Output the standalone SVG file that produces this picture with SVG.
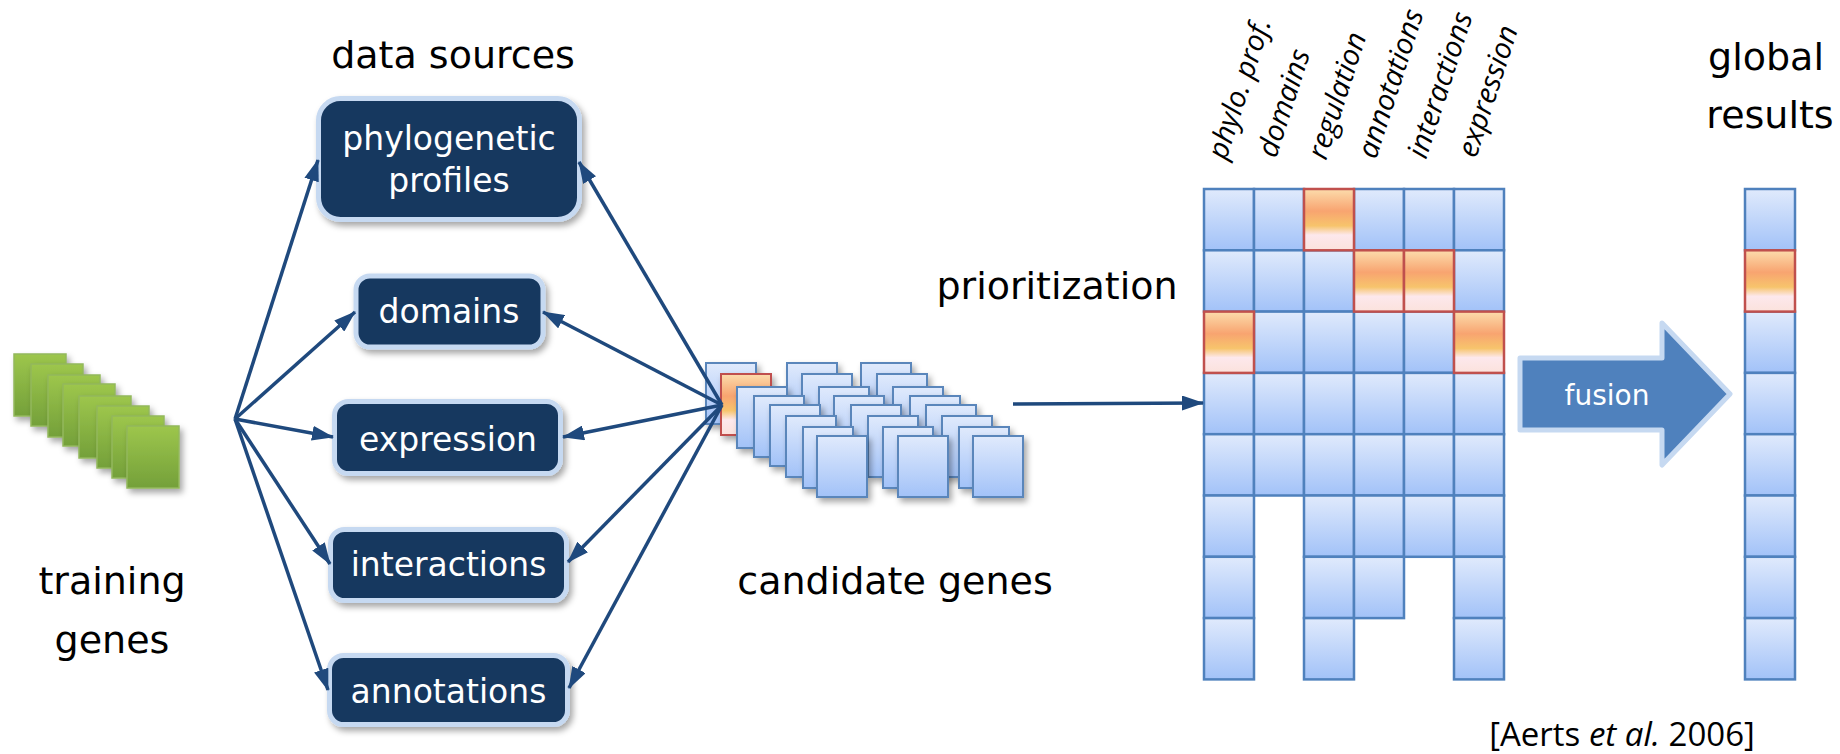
<svg xmlns="http://www.w3.org/2000/svg" width="1840" height="754" viewBox="0 0 1840 754">
  <defs>
    <linearGradient id="gBlue" x1="0" y1="0" x2="0" y2="1">
      <stop offset="0" stop-color="#e0eafc"/>
      <stop offset="1" stop-color="#a2c2f8"/>
    </linearGradient>
    <linearGradient id="gHot" x1="0" y1="0" x2="0" y2="1">
      <stop offset="0" stop-color="#fcdcac"/>
      <stop offset="0.36" stop-color="#f8a470"/>
      <stop offset="0.6" stop-color="#f7c46c"/>
      <stop offset="0.75" stop-color="#fde8ec"/>
      <stop offset="1" stop-color="#fbe2dc"/>
    </linearGradient>
    <linearGradient id="gGreen" x1="0" y1="0" x2="0" y2="1">
      <stop offset="0" stop-color="#9dc64c"/>
      <stop offset="1" stop-color="#74a03a"/>
    </linearGradient>
    <filter id="shadow" x="-20%" y="-20%" width="150%" height="150%">
      <feDropShadow dx="3" dy="4" stdDeviation="3" flood-color="#000" flood-opacity="0.35"/>
    </filter>
    <marker id="head" viewBox="0 0 22 15" refX="21" refY="7.5" markerWidth="22" markerHeight="15" markerUnits="userSpaceOnUse" orient="auto">
      <path d="M0,0 L22,7.5 L0,15 z" fill="#1f497d"/>
    </marker>
    <style>
      .lbl { font-family: "DejaVu Sans", Verdana, sans-serif; font-size: 38px; fill: #000; text-anchor: middle; }
      .box { fill: #17375e; stroke: #c6d9f1; stroke-width: 5; filter: url(#shadow); }
      .boxtxt { font-family: "DejaVu Sans", Verdana, sans-serif; font-size: 33px; fill: #fff; text-anchor: middle; }
      .green { fill: url(#gGreen); stroke: #93b85c; stroke-width: 1.5; filter: url(#shadow); }
      .card { fill: url(#gBlue); stroke: #5a86bb; stroke-width: 2; filter: url(#shadow); }
      .cardHot { fill: url(#gHot); stroke: #c0504d; stroke-width: 2; filter: url(#shadow); }
      .cell { fill: url(#gBlue); stroke: #4f81bd; stroke-width: 2.5; }
      .hot { fill: url(#gHot); stroke: #c0504d; stroke-width: 2.5; }
      .col { font-family: "Open Sans", "Noto Sans", sans-serif; font-style: italic; font-size: 29px; fill: #000; }
      .link { stroke: #1f497d; stroke-width: 3.5; fill: none; marker-end: url(#head); }
    </style>
  </defs>

  <rect width="1840" height="754" fill="#fff"/>

  <!-- training genes -->
  <g id="training-genes">
    <rect class="green" x="14" y="354" width="52" height="62"/>
    <rect class="green" x="31" y="364" width="52" height="62"/>
    <rect class="green" x="48" y="375" width="52" height="62"/>
    <rect class="green" x="63" y="384" width="52" height="62"/>
    <rect class="green" x="79" y="396" width="52" height="62"/>
    <rect class="green" x="97" y="406" width="52" height="62"/>
    <rect class="green" x="112" y="416" width="52" height="62"/>
    <rect class="green" x="127" y="426" width="52" height="62"/>
    <text class="lbl" x="112" y="594">training</text>
    <text class="lbl" x="112" y="653">genes</text>
  </g>

  <!-- data sources -->
  <text class="lbl" x="453" y="68">data sources</text>
  <g id="src-phylo">
    <rect class="box" x="318.5" y="98.5" width="261" height="121" rx="22"/>
    <text class="boxtxt" x="449" y="150">phylogenetic</text>
    <text class="boxtxt" x="449" y="192">profiles</text>
  </g>
  <g id="src-domains">
    <rect class="box" x="356" y="276" width="187" height="71" rx="14"/>
    <text class="boxtxt" x="449" y="323">domains</text>
  </g>
  <g id="src-expression">
    <rect class="box" x="334.5" y="401.5" width="226" height="72" rx="14"/>
    <text class="boxtxt" x="448" y="451">expression</text>
  </g>
  <g id="src-interactions">
    <rect class="box" x="330.5" y="529.5" width="236" height="71" rx="14"/>
    <text class="boxtxt" x="448.5" y="576">interactions</text>
  </g>
  <g id="src-annotations">
    <rect class="box" x="329.5" y="655.5" width="238" height="69" rx="14"/>
    <text class="boxtxt" x="448.5" y="703">annotations</text>
  </g>

  <!-- candidate genes: three stacks, drawn layer by layer from back to front -->
  <g id="candidate-genes">
    <rect class="card" x="706" y="363" width="50" height="61"/>
    <rect class="card" x="787" y="363" width="50" height="61"/>
    <rect class="card" x="861" y="363" width="50" height="61"/>
    <rect class="cardHot" x="721" y="374" width="50" height="61"/>
    <rect class="card" x="802" y="374" width="50" height="61"/>
    <rect class="card" x="877" y="374" width="50" height="61"/>
    <rect class="card" x="737" y="387" width="50" height="61"/>
    <rect class="card" x="819" y="387" width="50" height="61"/>
    <rect class="card" x="893" y="387" width="50" height="61"/>
    <rect class="card" x="754" y="396" width="50" height="61"/>
    <rect class="card" x="834" y="396" width="50" height="61"/>
    <rect class="card" x="910" y="396" width="50" height="61"/>
    <rect class="card" x="770" y="405" width="50" height="61"/>
    <rect class="card" x="851" y="405" width="50" height="61"/>
    <rect class="card" x="926" y="405" width="50" height="61"/>
    <rect class="card" x="786" y="416" width="50" height="61"/>
    <rect class="card" x="868" y="416" width="50" height="61"/>
    <rect class="card" x="942" y="416" width="50" height="61"/>
    <rect class="card" x="803" y="427" width="50" height="61"/>
    <rect class="card" x="883" y="427" width="50" height="61"/>
    <rect class="card" x="959" y="427" width="50" height="61"/>
    <rect class="card" x="817" y="436" width="50" height="61"/>
    <rect class="card" x="898" y="436" width="50" height="61"/>
    <rect class="card" x="973" y="436" width="50" height="61"/>
    <text class="lbl" x="895" y="594">candidate genes</text>
  </g>

  <!-- per-source score matrix -->
  <g id="prioritization">
    <text class="lbl" x="1057" y="299">prioritization</text>
    <text class="col" transform="translate(1226,161) rotate(-72)">phylo. prof.</text>
    <text class="col" transform="translate(1276,159) rotate(-72)">domains</text>
    <text class="col" transform="translate(1326,161) rotate(-72)">regulation</text>
    <text class="col" transform="translate(1376,160) rotate(-72)">annotations</text>
    <text class="col" transform="translate(1426,160) rotate(-72)">interactions</text>
    <text class="col" transform="translate(1476,159) rotate(-72)">expression</text>
    <!-- column 0: phylo. prof. (8 rows) -->
    <rect class="cell" x="1204" y="189" width="50" height="61.3"/>
    <rect class="cell" x="1204" y="250.3" width="50" height="61.3"/>
    <rect class="cell" x="1204" y="372.9" width="50" height="61.3"/>
    <rect class="cell" x="1204" y="434.2" width="50" height="61.3"/>
    <rect class="cell" x="1204" y="495.5" width="50" height="61.3"/>
    <rect class="cell" x="1204" y="556.8" width="50" height="61.3"/>
    <rect class="cell" x="1204" y="618.1" width="50" height="61.3"/>
    <!-- column 1: domains (5 rows) -->
    <rect class="cell" x="1254" y="189" width="50" height="61.3"/>
    <rect class="cell" x="1254" y="250.3" width="50" height="61.3"/>
    <rect class="cell" x="1254" y="311.6" width="50" height="61.3"/>
    <rect class="cell" x="1254" y="372.9" width="50" height="61.3"/>
    <rect class="cell" x="1254" y="434.2" width="50" height="61.3"/>
    <!-- column 2: regulation (8 rows) -->
    <rect class="cell" x="1304" y="250.3" width="50" height="61.3"/>
    <rect class="cell" x="1304" y="311.6" width="50" height="61.3"/>
    <rect class="cell" x="1304" y="372.9" width="50" height="61.3"/>
    <rect class="cell" x="1304" y="434.2" width="50" height="61.3"/>
    <rect class="cell" x="1304" y="495.5" width="50" height="61.3"/>
    <rect class="cell" x="1304" y="556.8" width="50" height="61.3"/>
    <rect class="cell" x="1304" y="618.1" width="50" height="61.3"/>
    <!-- column 3: annotations (7 rows) -->
    <rect class="cell" x="1354" y="189" width="50" height="61.3"/>
    <rect class="cell" x="1354" y="311.6" width="50" height="61.3"/>
    <rect class="cell" x="1354" y="372.9" width="50" height="61.3"/>
    <rect class="cell" x="1354" y="434.2" width="50" height="61.3"/>
    <rect class="cell" x="1354" y="495.5" width="50" height="61.3"/>
    <rect class="cell" x="1354" y="556.8" width="50" height="61.3"/>
    <!-- column 4: interactions (6 rows) -->
    <rect class="cell" x="1404" y="189" width="50" height="61.3"/>
    <rect class="cell" x="1404" y="311.6" width="50" height="61.3"/>
    <rect class="cell" x="1404" y="372.9" width="50" height="61.3"/>
    <rect class="cell" x="1404" y="434.2" width="50" height="61.3"/>
    <rect class="cell" x="1404" y="495.5" width="50" height="61.3"/>
    <!-- column 5: expression (8 rows) -->
    <rect class="cell" x="1454" y="189" width="50" height="61.3"/>
    <rect class="cell" x="1454" y="250.3" width="50" height="61.3"/>
    <rect class="cell" x="1454" y="372.9" width="50" height="61.3"/>
    <rect class="cell" x="1454" y="434.2" width="50" height="61.3"/>
    <rect class="cell" x="1454" y="495.5" width="50" height="61.3"/>
    <rect class="cell" x="1454" y="556.8" width="50" height="61.3"/>
    <rect class="cell" x="1454" y="618.1" width="50" height="61.3"/>
    <!-- top-ranked cells -->
    <rect class="hot" x="1304" y="189" width="50" height="61.3"/>
    <rect class="hot" x="1354" y="250.3" width="50" height="61.3"/>
    <rect class="hot" x="1404" y="250.3" width="50" height="61.3"/>
    <rect class="hot" x="1204" y="311.6" width="50" height="61.3"/>
    <rect class="hot" x="1454" y="311.6" width="50" height="61.3"/>
  </g>

  <!-- fusion step -->
  <g id="fusion">
    <polygon points="1520,358 1662,358 1662,323 1730,394 1662,465 1662,430 1520,430" fill="#4f81bd" stroke="#c6d9f1" stroke-width="5" stroke-linejoin="round"/>
    <text x="1607" y="405" font-family="DejaVu Sans, Verdana, sans-serif" font-size="28" fill="#fff" text-anchor="middle">fusion</text>
  </g>

  <!-- global ranking -->
  <g id="global-results">
    <text class="lbl" x="1766" y="70">global</text>
    <text class="lbl" x="1770" y="128">results</text>
    <rect class="cell" x="1745" y="189" width="50" height="61.3"/>
    <rect class="cell" x="1745" y="311.6" width="50" height="61.3"/>
    <rect class="cell" x="1745" y="372.9" width="50" height="61.3"/>
    <rect class="cell" x="1745" y="434.2" width="50" height="61.3"/>
    <rect class="cell" x="1745" y="495.5" width="50" height="61.3"/>
    <rect class="cell" x="1745" y="556.8" width="50" height="61.3"/>
    <rect class="cell" x="1745" y="618.1" width="50" height="61.3"/>
    <rect class="hot" x="1745" y="250.3" width="50" height="61.3"/>
  </g>

  <!-- connectors -->
  <g id="connectors">
    <line class="link" x1="235" y1="419" x2="318" y2="160"/>
    <line class="link" x1="235" y1="419" x2="355" y2="312"/>
    <line class="link" x1="235" y1="419" x2="333" y2="437"/>
    <line class="link" x1="235" y1="419" x2="330" y2="564"/>
    <line class="link" x1="235" y1="419" x2="328" y2="690"/>
    <line class="link" x1="722" y1="405" x2="579" y2="162"/>
    <line class="link" x1="722" y1="405" x2="543" y2="312"/>
    <line class="link" x1="722" y1="405" x2="563" y2="437"/>
    <line class="link" x1="722" y1="405" x2="568" y2="562"/>
    <line class="link" x1="722" y1="405" x2="569" y2="688"/>
    <line class="link" x1="1013" y1="404" x2="1203" y2="403"/>
  </g>

  <text x="1622" y="746" font-family="Open Sans, Noto Sans, sans-serif" font-size="33" fill="#000" text-anchor="middle">[Aerts <tspan font-style="italic">et al.</tspan> 2006]</text>
</svg>
